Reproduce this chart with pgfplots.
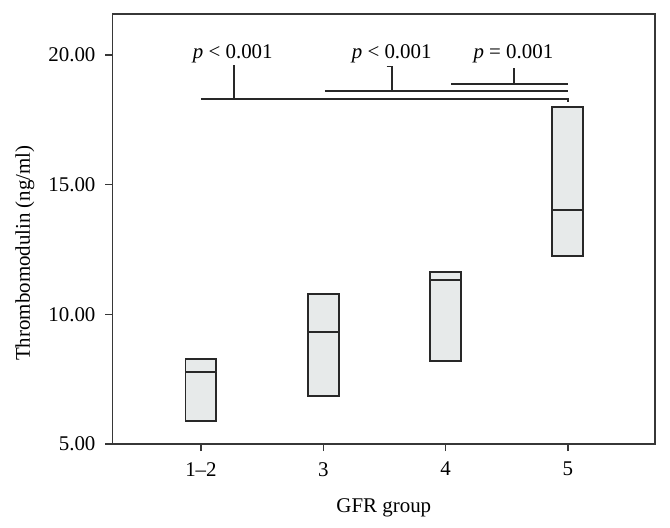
\documentclass[border=0pt]{standalone}
\usepackage{fontspec}
\setmainfont{Liberation Serif}
\usepackage{pgfplots}
\pgfplotsset{compat=1.18}
\usepgfplotslibrary{statistics}
\definecolor{boxfill}{RGB}{231,234,234}
\definecolor{axgray}{RGB}{55,55,55}
\definecolor{linegray}{RGB}{40,40,40}
\newcommand{\lblfont}{\fontsize{10.5}{12.6}\selectfont}
\begin{document}
\begin{tikzpicture}
\begin{axis}[
  scale only axis,
  width=271.2bp, height=215bp,
  xmin=-0.722, xmax=3.713,
  ymin=5, ymax=21.58,
  clip=false,
  axis line style={axgray, line width=0.75bp},
  xtick={0,1,2,3},
  xticklabels={1--2,3,4,5},
  ytick={5,10,15,20},
  tick align=outside,
  xtick pos=bottom, ytick pos=left,
  major tick length=3.6bp,
  tick style={axgray, line width=0.75bp},
  /pgf/number format/.cd, fixed, fixed zerofill, precision=2, assume math mode=true,
  /pgfplots/.cd,
  ticklabel style={font=\lblfont, text=black},
  xticklabel style={yshift=-2bp},
  yticklabel style={xshift=-1.5bp},
  label style={font=\lblfont, text=black},
  xlabel={GFR group},
  ylabel={Thrombomodulin (ng/ml)},
  xlabel style={at={(axis description cs:0.5,-0.1605)}, anchor=base},
  ylabel style={at={(axis description cs:-0.1617,0.444)}, anchor=center},
  boxplot/draw direction=y,
  boxplot/box extend=0.253,
  boxplot/whisker extend=0,
]
\addplot[boxplot prepared={draw position=0, lower whisker=5.89, lower quartile=5.89, median=7.78, upper quartile=8.28, upper whisker=8.28}, draw=linegray, fill=boxfill, line width=1bp] coordinates {};
\addplot[boxplot prepared={draw position=1, lower whisker=6.86, lower quartile=6.86, median=9.31, upper quartile=10.79, upper whisker=10.79}, draw=linegray, fill=boxfill, line width=1bp] coordinates {};
\addplot[boxplot prepared={draw position=2, lower whisker=8.18, lower quartile=8.18, median=11.32, upper quartile=11.62, upper whisker=11.62}, draw=linegray, fill=boxfill, line width=1bp] coordinates {};
\addplot[boxplot prepared={draw position=3, lower whisker=12.25, lower quartile=12.25, median=14.01, upper quartile=17.98, upper whisker=17.98}, draw=linegray, fill=boxfill, line width=1bp] coordinates {};
% significance brackets
\addplot[linegray, line width=0.8bp, no marks] coordinates {(0,18.31) (3.0,18.31) (3.0,18.2)};
\addplot[linegray, line width=0.8bp, no marks] coordinates {(0.27,18.31) (0.27,19.61)};
\addplot[linegray, line width=0.8bp, no marks] coordinates {(1.014,18.61) (3.0,18.61)};
\addplot[linegray, line width=0.8bp, no marks] coordinates {(1.519,19.55) (1.56,19.55) (1.56,18.61)};
\addplot[linegray, line width=0.8bp, no marks] coordinates {(2.045,18.88) (3.0,18.88)};
\addplot[linegray, line width=0.8bp, no marks] coordinates {(2.562,18.88) (2.562,19.51)};
\node[anchor=base, font=\lblfont, inner sep=0pt] at (axis cs:0.26,19.85) {\textit{p} < 0.001};
\node[anchor=base, font=\lblfont, inner sep=0pt] at (axis cs:1.56,19.85) {\textit{p} < 0.001};
\node[anchor=base, font=\lblfont, inner sep=0pt] at (axis cs:2.555,19.85) {\textit{p} = 0.001};
\path ([shift={(-56.35bp,-42bp)}]rel axis cs:0,0) rectangle ([shift={(7.5bp,7bp)}]rel axis cs:1,1);
\end{axis}
\end{tikzpicture}
\end{document}
